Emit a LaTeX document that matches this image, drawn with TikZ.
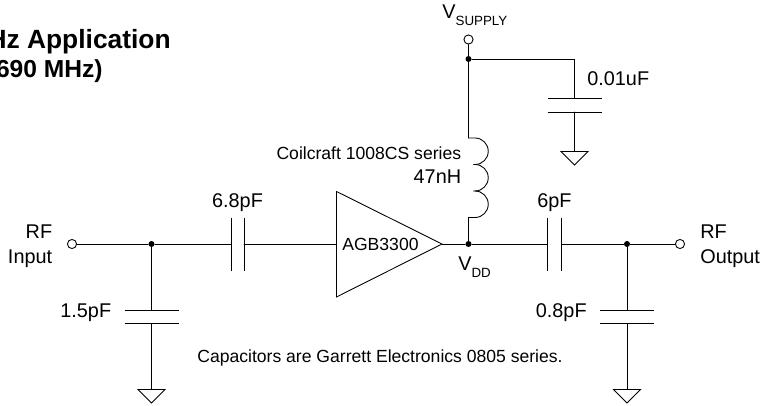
\documentclass[tikz,border=0pt]{standalone}
\usepackage{fontspec}
\setmainfont{Liberation Sans}
\newcommand{\subtext}[1]{\raisebox{-4.5pt}{\fontsize{7.6}{9}\selectfont #1}}

\begin{document}
\begin{tikzpicture}
            \tikzstyle{line} = [line width=0.5pt, line cap=round, line join=miter]
            \tikzstyle{plate} = [line width=0.55pt]
            \tikzstyle{dot} = [circle, fill=black, inner sep=0pt, minimum size=3.4pt]
            \tikzstyle{pin} = [circle, draw, line width=0.5pt, fill=white, inner sep=0pt, minimum size=5.2pt]
            \tikzstyle{biglabel} = [inner sep=0pt, font=\fontsize{11.3}{13}\selectfont]
            \tikzstyle{smalllabel} = [inner sep=0pt, font=\fontsize{10}{12}\selectfont]
            \useasboundingbox (0, 0) rectangle (15.26, 8.1);

            % heading, cut off by the page edge
            \node[inner sep=0pt, anchor=base east, font=\fontsize{15}{17}\bfseries\selectfont] (titleA) at (3.42, 7.14) {Hz Application};
            \node[inner sep=0pt, anchor=base east, font=\fontsize{14}{16}\bfseries\selectfont] (titleB) at (2.06, 6.56) {690 MHz)};

            % points on the wires
            \node[pin] (vsupply) at (9.37, 7.31) {};
            \node[dot] (jtop) at (9.37, 6.92) {};
            \coordinate (cbcorner) at (11.49, 6.92);
            \coordinate (cbA) at (11.49, 6.13);
            \coordinate (cbB) at (11.49, 5.86);
            \coordinate (gndC) at (11.49, 5.07);
            \coordinate (coilA) at (9.37, 5.34);
            \coordinate (coilB) at (9.37, 3.75);
            \node[pin] (rfin) at (1.44, 3.22) {};
            \node[dot] (jin) at (3.03, 3.22) {};
            \coordinate (csA) at (4.62, 3.22);
            \coordinate (csB) at (4.88, 3.22);
            \coordinate (ampin) at (6.73, 3.22);
            \coordinate (ampout) at (8.84, 3.22);
            \node[dot] (jdd) at (9.37, 3.22) {};
            \coordinate (coA) at (10.95, 3.22);
            \coordinate (coB) at (11.23, 3.22);
            \node[dot] (jout) at (12.54, 3.22) {};
            \node[pin] (rfout) at (13.6, 3.22) {};
            \coordinate (ciA) at (3.03, 1.89);
            \coordinate (ciB) at (3.03, 1.63);
            \coordinate (gndA) at (3.03, 0.31);
            \coordinate (cdA) at (12.54, 1.89);
            \coordinate (cdB) at (12.54, 1.63);
            \coordinate (gndB) at (12.54, 0.31);

            % wires
            \draw[line] (vsupply) -- (jtop) -- (coilA);
            \draw[line] (jtop) -- (cbcorner) -- (cbA);
            \draw[line] (cbB) -- (gndC);
            \draw[line] (rfin) -- (jin) -- (csA);
            \draw[line] (csB) -- (ampin);
            \draw[line] (ampout) -- (jdd) -- (coA);
            \draw[line] (coB) -- (jout) -- (rfout);
            \draw[line] (jin) -- (ciA);
            \draw[line] (ciB) -- (gndA);
            \draw[line] (jout) -- (cdA);
            \draw[line] (cdB) -- (gndB);
            \draw[line] (jdd) -- (coilB);

            % inductor
            \draw[line] (coilA) -- ++(0.13, 0) arc[start angle=90, end angle=-90, radius=0.265];
            \draw[line] (9.47, 4.81) -- ++(0.03, 0) arc[start angle=90, end angle=-90, radius=0.265];
            \draw[line] (9.47, 4.28) -- ++(0.03, 0) arc[start angle=90, end angle=-90, radius=0.265] -- (coilB);

            % capacitor plates
            \foreach \plate in {cbA, cbB, ciA, ciB, cdA, cdB} {
                \draw[plate] (\plate) ++(-0.54, 0) -- ++(1.08, 0);
            }
            \foreach \plate in {csA, csB, coA, coB} {
                \draw[plate] (\plate) ++(0, 0.53) -- ++(0, -1.06);
            }

            % grounds
            \foreach \gnd in {gndA, gndB, gndC} {
                \draw[line] (\gnd) -- ++(0.27, 0) -- ++(-0.27, -0.27) -- ++(-0.27, 0.27) -- cycle;
            }

            % amplifier
            \draw[line] (ampin) -- (6.73, 4.27) -- (ampout) -- (6.73, 2.16) -- cycle;
            \node[smalllabel, anchor=base west] (amp) at (6.84, 3.1) {AGB3300};

            % labels
            \node[biglabel, anchor=base west] (vsupplylabel) at (8.84, 7.74) {V\subtext{SUPPLY}};
            \node[biglabel, anchor=base west] (cblabel) at (11.74, 6.4) {0.01uF};
            \node[smalllabel, anchor=base east] (coillabel) at (9.23, 4.92) {Coilcraft 1008CS series};
            \node[biglabel, anchor=base east] (coilvalue) at (9.23, 4.44) {47nH};
            \node[biglabel, anchor=base] (cslabel) at (4.75, 3.96) {6.8pF};
            \node[biglabel, anchor=base] (colabel) at (11.09, 3.96) {6pF};
            \node[biglabel, anchor=base east] (rfinA) at (1.05, 3.34) {RF};
            \node[biglabel, anchor=base east] (rfinB) at (1.05, 2.84) {Input};
            \node[biglabel, anchor=base west] (rfoutA) at (14, 3.34) {RF};
            \node[biglabel, anchor=base west] (rfoutB) at (14, 2.84) {Output};
            \node[biglabel, anchor=base west] (vddlabel) at (9.16, 2.7) {V\subtext{DD}};
            \node[biglabel, anchor=base east] (cilabel) at (2.23, 1.76) {1.5pF};
            \node[biglabel, anchor=base east] (cdlabel) at (11.74, 1.76) {0.8pF};
            \node[smalllabel, anchor=base west] (note) at (3.94, 0.86) {Capacitors are Garrett Electronics 0805 series.};
        \end{tikzpicture}
\end{document}
